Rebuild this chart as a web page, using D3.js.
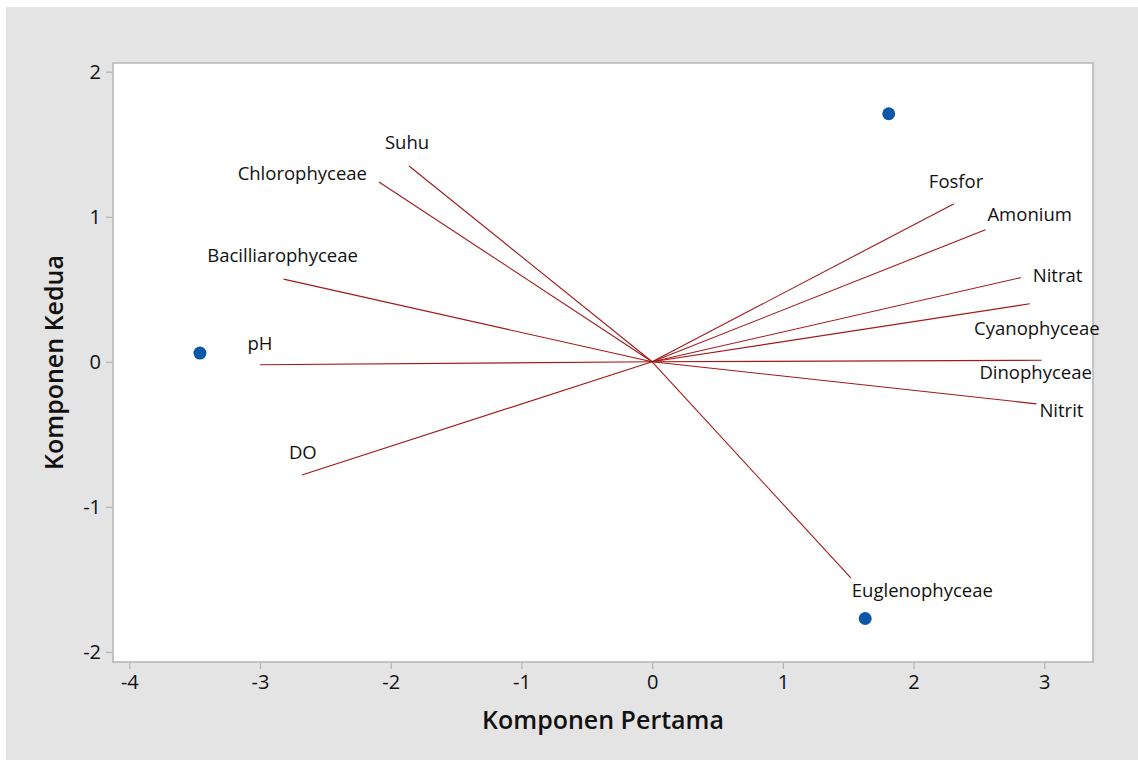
<!DOCTYPE html>
<html>
<head>
<meta charset="utf-8">
<script src="https://cdn.jsdelivr.net/npm/d3@7"></script>
<style>
  html, body { margin: 0; padding: 0; background: #ffffff; }
  svg { display: block; }
  text { font-family: "Open Sans", "Noto Sans", sans-serif; fill: #111; }
</style>
</head>
<body>
<svg id="chart" width="1138" height="760"></svg>
<script>
// ---- data ----
const xTicks = [-4, -3, -2, -1, 0, 1, 2, 3];
const yTicks = [-2, -1, 0, 1, 2];
const xTitle = "Komponen Pertama";
const yTitle = "Komponen Kedua";

// score points (PC1, PC2)
const scoreX = [-3.46, 1.81, 1.63];
const scoreY = [0.06, 1.71, -1.77];

// loading vectors (scaled) endpoints
const varNames = ["Suhu", "Chlorophyceae", "Bacilliarophyceae", "pH", "DO",
  "Fosfor", "Amonium", "Nitrat", "Cyanophyceae", "Dinophyceae", "Nitrit", "Euglenophyceae"];
const loadX = [-1.86, -2.09, -2.82, -3.00, -2.68, 2.31, 2.55, 2.82, 2.89, 2.98, 2.94, 1.52];
const loadY = [1.35, 1.24, 0.57, -0.02, -0.78, 1.09, 0.91, 0.58, 0.40, 0.01, -0.29, -1.49];

// ---- layout (label placement relative to vector tip, in px) ----
const labelLayout = [
  { dx: -2, dy: -17, anchor: "middle" },
  { dx: -12, dy: -2, anchor: "end" },
  { dx: -1, dy: -17, anchor: "middle" },
  { dx: 0, dy: -15, anchor: "middle" },
  { dx: 1, dy: -16, anchor: "middle" },
  { dx: 2, dy: -16, anchor: "middle" },
  { dx: 2, dy: -9, anchor: "start" },
  { dx: 12, dy: 4, anchor: "start" },
  { dx: 7, dy: 31, anchor: "middle" },
  { dx: -6, dy: 19, anchor: "middle" },
  { dx: 3, dy: 13, anchor: "start" },
  { dx: 1, dy: 19, anchor: "start" }
];

const svg = d3.select("#chart");
const W = 1138, H = 760;
const plot = { left: 113, top: 63, right: 1093, bottom: 662 };

// background
svg.append("rect").attr("x", 6).attr("y", 7).attr("width", W - 6).attr("height", H - 7)
  .attr("fill", "#e4e4e4");

const x = d3.scaleLinear().domain([-4.125, 3.373]).range([plot.left, plot.right]);
const y = d3.scaleLinear().domain([-2.07, 2.06]).range([plot.bottom, plot.top]);

// plot area
svg.append("rect")
  .attr("x", plot.left).attr("y", plot.top)
  .attr("width", plot.right - plot.left).attr("height", plot.bottom - plot.top)
  .attr("fill", "#ffffff").attr("stroke", "#b4b4b4").attr("stroke-width", 1.5);

// axes
const xAxis = svg.append("g").attr("transform", `translate(0,${plot.bottom + 1})`)
  .call(d3.axisBottom(x).tickValues(xTicks).tickSize(6).tickPadding(6).tickFormat(d3.format("d")));
const yAxis = svg.append("g").attr("transform", `translate(${plot.left - 1},0)`)
  .call(d3.axisLeft(y).tickValues(yTicks).tickSize(6).tickPadding(5).tickFormat(d3.format("d")));
[xAxis, yAxis].forEach(g => {
  g.select(".domain").remove();
  g.selectAll(".tick line").attr("stroke", "#a8a8a8");
  g.selectAll(".tick text").attr("font-size", 20).attr("fill", "#111")
    .style("font-family", "'Open Sans', sans-serif");
});
xAxis.selectAll(".tick text").attr("dy", "0.71em");
// use hyphen-minus like reference
xAxis.selectAll(".tick text").text(d => String(d));
yAxis.selectAll(".tick text").text(d => String(d));

// axis titles
svg.append("text").attr("x", (plot.left + plot.right) / 2 + 0).attr("y", 729)
  .attr("text-anchor", "middle").attr("font-size", 25).attr("font-weight", 600)
  .text(xTitle);
svg.append("text").attr("transform", `translate(63,${(plot.top + plot.bottom) / 2}) rotate(-90)`)
  .attr("text-anchor", "middle").attr("font-size", 25).attr("font-weight", 600)
  .text(yTitle);

// vectors
const vec = varNames.map((n, i) => ({ name: n, x: loadX[i], y: loadY[i], lay: labelLayout[i] }));
svg.append("g").selectAll("line").data(vec).join("line")
  .attr("x1", x(0)).attr("y1", y(0))
  .attr("x2", d => x(d.x)).attr("y2", d => y(d.y))
  .attr("stroke", "#a31818").attr("stroke-width", 1.1);

svg.append("g").selectAll("text").data(vec).join("text")
  .attr("x", d => x(d.x) + d.lay.dx).attr("y", d => y(d.y) + d.lay.dy)
  .attr("text-anchor", d => d.lay.anchor)
  .attr("font-size", 18.5)
  .text(d => d.name);

// score points
const pts = scoreX.map((v, i) => ({ x: v, y: scoreY[i] }));
svg.append("g").selectAll("circle").data(pts).join("circle")
  .attr("cx", d => x(d.x)).attr("cy", d => y(d.y)).attr("r", 6.5)
  .attr("fill", "#0a57a8");
</script>
</body>
</html>
